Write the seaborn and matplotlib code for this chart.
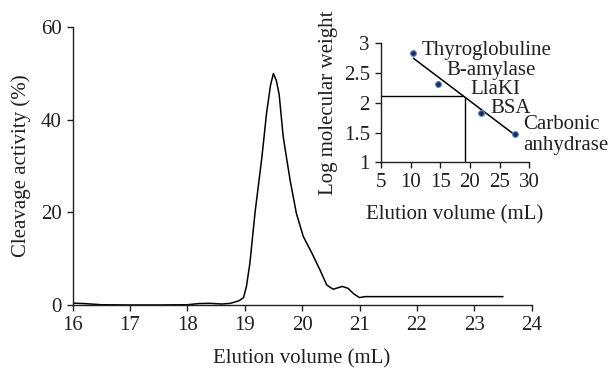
import pandas as pd
import seaborn as sns
import matplotlib.pyplot as plt
from matplotlib.ticker import FuncFormatter

sns.set_style("ticks")
plt.rcParams['font.family'] = ['Liberation Serif', 'DejaVu Serif']
plt.rcParams['font.size'] = 15

# elution profile (main chart)
volume = [16.0, 16.2, 16.5, 17.0, 17.5, 18.0, 18.2, 18.4, 18.6, 18.75, 18.9,
          18.98, 19.03, 19.09, 19.18, 19.3, 19.38, 19.45, 19.5, 19.55, 19.6,
          19.67, 19.79, 19.9, 20.02, 20.17, 20.31, 20.43, 20.54, 20.62, 20.7,
          20.8, 20.9, 21.0, 21.1, 21.5, 22.0, 23.0, 23.5]
activity = [0.4, 0.3, 0.05, 0.0, 0.0, 0.05, 0.3, 0.35, 0.2, 0.35, 0.9,
            1.6, 4.0, 9.0, 20.0, 32.0, 41.4, 47.5, 50.0, 48.5, 45.5,
            36.4, 27.0, 19.8, 14.8, 11.2, 7.6, 4.3, 3.4, 3.7, 4.0,
            3.6, 2.4, 1.6, 1.8, 1.8, 1.8, 1.8, 1.8]

# calibration (inset)
standards = ['Thyroglobuline', 'B-amylase', 'BSA', 'Carbonic\nanhydrase']
std_volume = [10.45, 14.55, 21.85, 27.6]
std_logmw = [2.83, 2.31, 1.83, 1.47]
fit_volume = [10.45, 27.3]
fit_logmw = [2.75, 1.48]
llaki_volume = 19.1
llaki_logmw = 2.1

ink = '#231f20'

fig = plt.figure(figsize=(6.12, 3.71), dpi=100)
ax = fig.add_axes([0.1185, 0.178, 0.7503, 0.7485])

prof = pd.DataFrame({'Elution volume (mL)': volume, 'Cleavage activity (%)': activity})
sns.lineplot(data=prof, x='Elution volume (mL)', y='Cleavage activity (%)',
             color='black', linewidth=1.1, ax=ax)
ax.set_xlim(16, 24)
ax.set_ylim(0, 60)
ax.set_xticks(range(16, 25))
ax.set_yticks([0, 20, 40, 60])
ax.set_xlabel('Elution volume (mL)', labelpad=10, color=ink)
ax.set_ylabel('Cleavage activity (%)', labelpad=7, color=ink)
sns.despine(ax=ax)
ax.tick_params(length=4, width=1, colors=ink, labelcolor=ink, pad=4)
for s in ax.spines.values():
    s.set_linewidth(1)
    s.set_color(ink)

# inset
ins = fig.add_axes([0.6225, 0.5625, 0.2423, 0.3208])
ins.patch.set_alpha(0)
sns.lineplot(x=fit_volume, y=fit_logmw, color='black', linewidth=1.1, ax=ins)
ins.plot([5, llaki_volume - 0.2], [llaki_logmw + 0.01] * 2, color='black', lw=1)
ins.plot([llaki_volume, llaki_volume], [1, llaki_logmw], color='black', lw=1)
sns.scatterplot(x=std_volume, y=std_logmw, color='#1f2d4f', edgecolor='#5b8fd0',
                s=18, linewidth=0.8, zorder=5, ax=ins)
ins.set_xlim(5, 30)
ins.set_ylim(1, 3)
ins.set_xticks(range(5, 31, 5))
ins.set_yticks([1, 1.5, 2, 2.5, 3])
ins.yaxis.set_major_formatter(FuncFormatter(lambda v, p: f'{v:g}'))
ins.set_xlabel('Elution volume (mL)', labelpad=9, color=ink)
ins.set_ylabel('Log molecular weight', labelpad=4, color=ink)
sns.despine(ax=ins)
ins.tick_params(length=4, width=1, colors=ink, labelcolor=ink, pad=4)
for s in ins.spines.values():
    s.set_linewidth(1)
    s.set_color(ink)

lab_pos = [(11.85, 2.88), (16.07, 2.55), (23.48, 1.91), (28.99, 1.46)]
for name, (lx, ly) in zip(standards, lab_pos):
    ins.text(lx, ly, name, ha='left', va='center', clip_on=False,
             linespacing=1.1, color=ink)
ins.text(20.0, 2.23, 'LlaKI', ha='left', va='center', color=ink)

fig.savefig('out.png', dpi=100)
